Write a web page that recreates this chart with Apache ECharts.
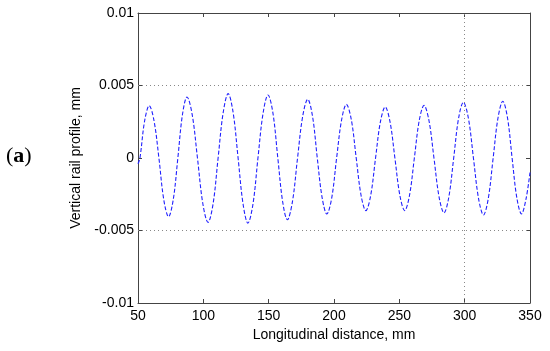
<!DOCTYPE html>
<html><head><meta charset="utf-8">
<script src="https://cdn.jsdelivr.net/npm/echarts@6/dist/echarts.min.js"></script>
<style>html,body{margin:0;padding:0;background:#fff}#c{width:550px;height:351px}</style>
</head><body><div id="c"></div>
<script>
// profile points (mm, mm): extrema, zero crossings and mid-flank points
const xs = [50, 51.5, 55.05, 58.6, 62.3, 66, 69.7, 73.4, 77.0, 80.5, 84.0, 87.5, 91.5, 95.5, 99.6, 103.6, 107.5, 111.3, 115.2, 119.0, 122.8, 126.6, 130.4, 134.1, 138.0, 141.8, 145.7, 149.5, 153.3, 157, 160.7, 164.3, 168.2, 172.1, 176.0, 179.9, 183.6, 187.2, 190.9, 194.5, 198.3, 202, 205.8, 209.5, 213.3, 217, 220.7, 224.4, 228.1, 231.8, 235.5, 239.2, 242.9, 246.6, 250.4, 254.1, 257.8, 261.5, 265.2, 268.9, 272.7, 276.5, 280.4, 284.2, 287.9, 291.6, 295.3, 299.0, 302.9, 306.7, 310.6, 314.4, 318.1, 321.8, 325.5, 329.2, 332.8, 336.3, 339.9, 343.5, 347.0, 350];
const ys = [-0.0004, 0, 0.00255, 0.00361, 0.00255, 0, -0.00286, -0.00405, -0.00286, 0, 0.00298, 0.00421, 0.00298, 0, -0.00314, -0.00444, -0.00314, 0, 0.00314, 0.00444, 0.00314, 0, -0.00317, -0.00449, -0.00317, 0, 0.00308, 0.00435, 0.00308, 0, -0.00301, -0.00426, -0.00301, 0, 0.00286, 0.00405, 0.00286, 0, -0.00273, -0.00386, -0.00273, 0, 0.00262, 0.0037, 0.00262, 0, -0.00257, -0.00363, -0.00257, 0, 0.00249, 0.00352, 0.00249, 0, -0.00257, -0.00363, -0.00257, 0, 0.00257, 0.00363, 0.00257, 0, -0.00268, -0.00379, -0.00268, 0, 0.00272, 0.00384, 0.00272, 0, -0.00278, -0.00393, -0.00278, 0, 0.00276, 0.00391, 0.00276, 0, -0.00273, -0.00386, -0.0028, -0.001];
const xTicks = [50, 100, 150, 200, 250, 300, 350];
const yTicks = [-0.01, -0.005, 0, 0.005, 0.01];
const gridY = [0.005, -0.005];
const gridX = [300];

const chart = echarts.init(document.getElementById('c'));
const font = 'Liberation Sans, Arial, sans-serif';
const axisCol = '#444';
const data = xs.map((x, i) => [x, ys[i]]);
const fmtY = v => (v === 0 ? '0' : String(+v.toFixed(3)));
const xMin = xTicks[0], xMax = xTicks[xTicks.length - 1];
const yMin = yTicks[0], yMax = yTicks[yTicks.length - 1];
const gridLines = gridY.map(v => [{coord: [xMin, v]}, {coord: [xMax, v]}])
  .concat(gridX.map(v => [{coord: [v, yMin]}, {coord: [v, yMax]}]));
chart.setOption({
  animation: false,
  grid: {left: 138, right: 20, top: 13, bottom: 48},
  xAxis: [{
    type: 'value', min: xMin, max: xMax, interval: 50, position: 'bottom',
    axisLine: {show: true, onZero: false, lineStyle: {color: axisCol, width: 1}},
    axisTick: {show: true, inside: true, length: 4, lineStyle: {color: axisCol}},
    axisLabel: {color: '#000', fontSize: 14, fontFamily: font, margin: 6},
    splitLine: {show: false},
    name: 'Longitudinal distance, mm', nameLocation: 'middle', nameGap: 25,
    nameTextStyle: {color: '#000', fontSize: 14, fontFamily: font}
  }, {
    type: 'value', min: xMin, max: xMax, interval: 50, position: 'top',
    axisLine: {show: true, onZero: false, lineStyle: {color: axisCol, width: 1}},
    axisTick: {show: true, inside: true, length: 4, lineStyle: {color: axisCol}},
    axisLabel: {show: false}, splitLine: {show: false}
  }],
  yAxis: [{
    type: 'value', min: yMin, max: yMax, interval: 0.005, position: 'left',
    axisLine: {show: true, onZero: false, lineStyle: {color: axisCol, width: 1}},
    axisTick: {show: true, inside: true, length: 4, lineStyle: {color: axisCol}},
    axisLabel: {color: '#000', fontSize: 14, fontFamily: font, margin: 4, formatter: fmtY},
    splitLine: {show: false},
    name: 'Vertical rail profile, mm', nameLocation: 'middle', nameGap: 43, nameRotate: 90,
    nameTextStyle: {color: '#000', fontSize: 14, fontFamily: font}
  }, {
    type: 'value', min: yMin, max: yMax, interval: 0.005, position: 'right',
    axisLine: {show: true, onZero: false, lineStyle: {color: axisCol, width: 1}},
    axisTick: {show: true, inside: true, length: 4, lineStyle: {color: axisCol}},
    axisLabel: {show: false}, splitLine: {show: false}
  }],
  graphic: [{
    type: 'text', left: 6, top: 145,
    style: {
      text: '({b|a})', font: '22px "Liberation Serif", "DejaVu Serif", serif', fill: '#000',
      rich: {b: {fontWeight: 'bold', fontSize: 22, fontFamily: '"Liberation Serif", serif'}}
    }
  }],
  series: [{
    type: 'line', data: data, smooth: 0.35, showSymbol: false, silent: true, z: 3,
    lineStyle: {color: '#2020ff', width: 1.1, type: [4, 2]}
  }, {
    type: 'line', data: [], silent: true, z: 1,
    markLine: {
      silent: true, symbol: 'none', label: {show: false}, animation: false,
      lineStyle: {color: '#888', type: [1, 3], width: 1},
      data: gridLines
    }
  }]
});
</script></body></html>
